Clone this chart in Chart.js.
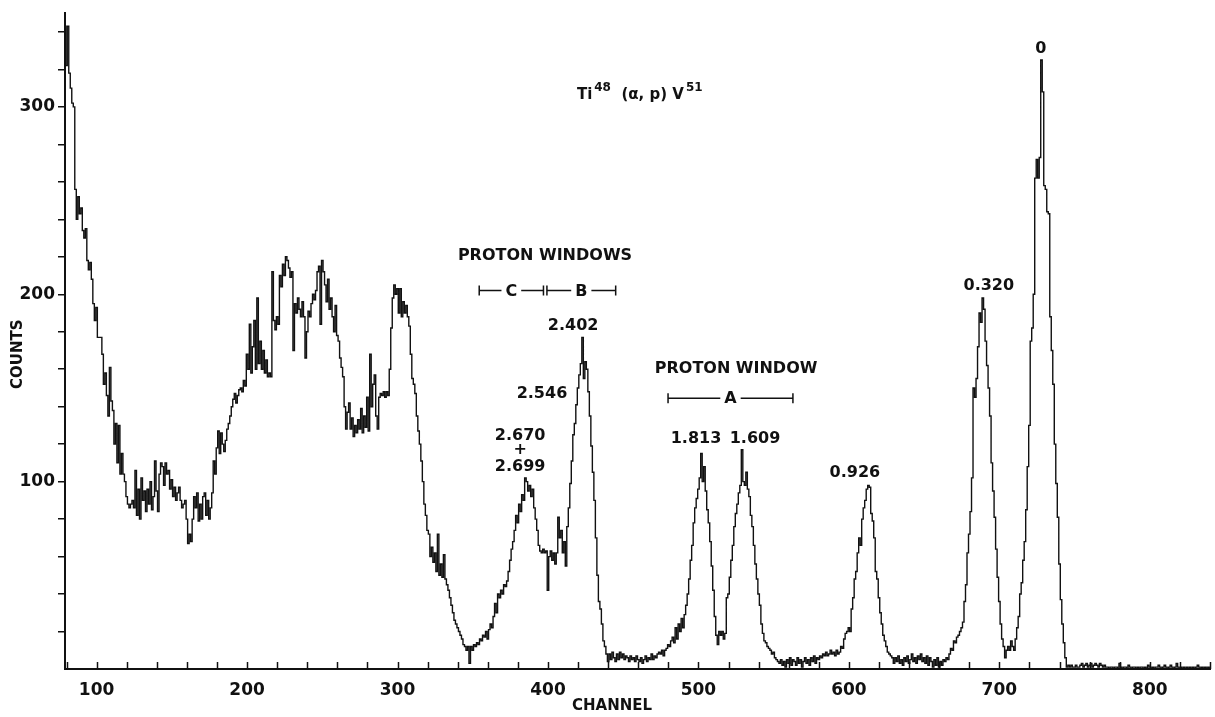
<!DOCTYPE html>
<html><head><meta charset="utf-8">
<script src="https://cdn.jsdelivr.net/npm/chart.js@4/dist/chart.umd.min.js"></script>
<style>html,body{margin:0;padding:0;background:#fff;}canvas{display:block;}</style>
</head><body>
<canvas id="c" width="1215" height="717"></canvas>
<script>
// ---- data (counts per channel, starting at channel 79) ----
const startChannel = 79;
const counts = [
343,
322,343,318,310,302,300,256,240,252,243, // 80
246,234,230,235,218,213,217,208,195,186, // 90
193,177,177,177,168,152,158,146,135,161, // 100
143,138,120,131,110,130,104,115,104,100, // 110
92,88,86,88,90,86,106,82,96,80,          // 120
102,90,95,84,96,88,100,85,92,111,        // 130
95,84,104,110,108,98,110,104,106,96,     // 140
101,92,97,90,94,97,90,86,88,90,          // 150
80,67,72,68,80,92,86,94,79,88,           // 160
80,92,94,82,90,80,86,94,111,104,         // 170
118,127,115,126,120,116,122,128,131,135, // 180
140,144,147,142,146,149,150,148,154,151, // 190
168,160,184,158,172,186,160,198,163,175, // 200
160,170,158,165,156,158,156,212,186,181, // 210
188,184,210,204,216,210,220,218,214,209, // 220
212,170,195,190,198,192,188,196,188,166, // 230
180,191,188,195,200,197,202,212,215,184, // 240
218,212,205,196,208,192,198,188,180,194, // 250
178,175,166,161,156,140,128,137,142,128, // 260
134,124,130,126,133,128,139,126,135,129, // 270
145,127,168,140,152,157,135,128,145,147, // 280
146,148,145,148,146,160,182,198,205,200, // 290
203,190,203,188,196,190,194,188,183,168, // 300
155,152,147,135,127,120,111,100,88,82,   // 310
74,72,60,65,57,62,52,72,50,56,           // 320
49,61,48,45,42,38,34,30,26,24,           // 330
22,20,18,16,13,12,10,12,3,12,            // 340
10,13,12,14,13,16,15,18,17,20,           // 350
16,21,24,22,28,35,30,40,38,42,           // 360
40,45,44,47,52,58,64,68,74,82,           // 370
78,88,84,93,90,102,100,95,98,92,         // 380
96,86,80,74,66,63,62,64,62,63,           // 390
42,60,63,58,62,56,62,81,70,74,           // 400
62,68,55,76,86,99,111,125,131,141,       // 410
150,157,163,177,155,164,160,148,135,119, // 420
105,90,70,50,36,32,24,15,12,8,           // 430
4,8,5,9,6,4,8,5,9,6,                     // 440
8,5,7,6,4,7,5,6,4,7,                     // 450
5,4,6,3,5,7,4,6,5,8,                     // 460
5,7,6,8,9,8,10,7,10,11,                  // 470
13,12,15,17,14,22,16,24,20,27,           // 480
22,29,34,40,48,58,66,78,86,91,           // 490
96,102,115,100,108,95,85,78,68,55,       // 500
42,28,18,13,20,18,20,16,19,38,           // 510
40,49,58,66,76,83,88,94,98,117,          // 520
100,98,105,96,92,82,76,66,56,48,         // 530
40,34,24,19,15,14,12,11,10,8,            // 540
9,6,5,4,3,5,2,4,1,5,                     // 550
3,6,2,5,4,2,6,3,5,1,                     // 560
4,6,3,5,2,6,4,7,3,6,                     // 570
5,7,6,8,7,9,7,8,10,8,                    // 580
9,7,10,8,9,12,11,16,19,20,               // 590
22,20,32,38,48,52,62,70,66,80,           // 600
86,90,96,98,97,83,79,70,52,48,           // 610
38,30,24,18,15,12,9,8,7,6,               // 620
3,6,4,7,3,5,2,6,4,7,                     // 630
3,5,8,4,6,3,7,5,8,4,                     // 640
6,3,7,2,6,4,1,5,2,6,                     // 650
1,4,2,5,4,6,5,8,11,10,                   // 660
15,14,17,18,20,22,25,36,45,62,           // 670
72,84,102,150,145,155,172,190,185,198,   // 680
192,175,162,150,135,110,95,81,64,49,     // 690
36,24,16,12,6,10,12,10,15,12,            // 700
10,16,22,28,40,46,58,68,85,108,          // 710
130,175,182,200,262,272,262,273,325,308, // 720
258,256,244,243,188,170,152,120,99,81,   // 730
56,37,24,14,6,1,2,1,2,1,                 // 740
1,2,1,1,2,3,1,2,3,1,                     // 750
2,3,1,2,3,2,1,3,2,1,                     // 760
2,1,1,0,1,1,0,1,1,0,                     // 770
3,1,0,1,1,0,2,1,0,1,                     // 780
1,0,1,0,1,1,0,1,0,2,                     // 790
1,0,1,0,1,1,2,1,0,1,                     // 800
2,1,0,1,2,1,0,1,3,1,                     // 810
0,1,0,1,0,1,0,1,0,1,                     // 820
0,1,2,1,0,1,0,1,0,1,                     // 830
0                                        // 840
];
const channels = counts.map((_, i) => startChannel + i);

const xTickValues = [80,100,120,140,160,180,200,220,240,260,280,300,320,340,360,380,400,420,440,460,480,500,520,540,560,580,600,620,640,660,680,700,720,740,760,780,800,820,840];
const xTickLabels = ['100','200','300','400','500','600','700','800'];
const yTickValues = [20,40,60,80,100,120,140,160,180,200,220,240,260,280,300,320,340];
const yTickLabels = ['100','200','300'];

const peakLabels   = ['0', '0.320', '0.926', '1.813', '1.609', '2.402', '2.546', '2.670', '+', '2.699'];
const peakChannels = [727.5, 693, 604, 498.4, 537.6, 416.7, 396, 381.5, 381.5, 381.5];
const peakCounts   = [331, 204.7, 104.5, 122.6, 122.6, 183.4, 147, 124.7, 116.7, 107.7];

const windowNames  = ['C', 'B', 'A'];
const windowStarts = [354.3, 399.3, 479.8];
const windowEnds   = [397, 445, 562.8];
const windowLevels = [202, 202, 144.5];
const windowTitles = ['PROTON WINDOWS', 'PROTON WINDOW'];
const windowTitleChannels = [398, 525];
const windowTitleCounts = [220.7, 160.4];

const FONT = '"DejaVu Sans", sans-serif';
const INK = '#111';

const decor = {
  id: 'decor',
  afterDraw(chart) {
    const ctx = chart.ctx, xs = chart.scales.x, ys = chart.scales.y, ca = chart.chartArea;
    const X = v => xs.getPixelForValue(v), Y = v => ys.getPixelForValue(v);
    ctx.save();
    ctx.strokeStyle = INK; ctx.fillStyle = INK; ctx.lineWidth = 1.5;
    // inward x ticks
    xTickValues.forEach(v => {
      const x = Math.round(X(v)) + 0.5;
      ctx.beginPath(); ctx.moveTo(x, ca.bottom); ctx.lineTo(x, ca.bottom - 7); ctx.stroke();
    });
    // peak labels
    ctx.textAlign = 'center'; ctx.textBaseline = 'middle';
    ctx.font = 'bold 16px ' + FONT;
    peakLabels.forEach((t, i) => ctx.fillText(t, X(peakChannels[i]), Y(peakCounts[i])));
    windowTitles.forEach((t, i) => ctx.fillText(t, X(windowTitleChannels[i]), Y(windowTitleCounts[i])));
    // window brackets
    windowNames.forEach((n, i) => {
      const x0 = X(windowStarts[i]), x1 = X(windowEnds[i]), y = Y(windowLevels[i]);
      const xc = (x0 + x1) / 2;
      const hw = ctx.measureText(n).width / 2 + 4;
      ctx.beginPath();
      ctx.moveTo(x0, y); ctx.lineTo(xc - hw, y);
      ctx.moveTo(xc + hw, y); ctx.lineTo(x1, y);
      ctx.moveTo(x0, y - 5); ctx.lineTo(x0, y + 5);
      ctx.moveTo(x1, y - 5); ctx.lineTo(x1, y + 5);
      ctx.stroke();
      ctx.fillText(n, xc, y + 1);
    });
    // reaction title Ti48(α,p)V51
    const base = 'bold 15px ' + FONT, sup = 'bold 12px ' + FONT;
    const parts = [['Ti', 0], ['48', 1], ['  (α, p) ', 0], ['V', 0], ['51', 1]];
    let w = 0;
    parts.forEach(p => { ctx.font = p[1] ? sup : base; w += ctx.measureText(p[0]).width + (p[1] ? 2 : 0); });
    let x = X(461) - w / 2; const yb = Y(304);
    ctx.textAlign = 'left'; ctx.textBaseline = 'alphabetic';
    parts.forEach(p => {
      ctx.font = p[1] ? sup : base;
      if (p[1]) x += 2;
      ctx.fillText(p[0], x, p[1] ? yb - 8 : yb);
      x += ctx.measureText(p[0]).width;
    });
    // axis titles
    ctx.font = 'bold 15px ' + FONT; ctx.textAlign = 'center'; ctx.textBaseline = 'middle';
    ctx.fillText('CHANNEL', X(442.6), ca.bottom + 37);
    ctx.translate(18, Y(168)); ctx.rotate(-Math.PI / 2);
    ctx.fillText('COUNTS', 0, 0);
    ctx.restore();
  }
};

new Chart(document.getElementById('c'), {
  type: 'line',
  data: {
    labels: channels,
    datasets: [{
      data: channels.map((c, i) => ({ x: c, y: counts[i] })),
      borderColor: INK, borderWidth: 1.4, pointRadius: 0, stepped: 'middle', fill: false, tension: 0
    }]
  },
  options: {
    responsive: false, animation: false, devicePixelRatio: 1,
    layout: { padding: { top: 12, right: 5, left: 0, bottom: 0 } },
    plugins: { legend: { display: false }, tooltip: { enabled: false } },
    scales: {
      x: {
        type: 'linear', min: 79, max: 840,
        afterFit: s => { s.height = 48; },
        afterBuildTicks: s => { s.ticks = xTickLabels.map(v => ({ value: +v })); },
        grid: { display: false },
        border: { display: true, color: INK, width: 2 },
        ticks: { color: INK, font: { family: FONT, size: 17, weight: 'bold' }, padding: 3, maxRotation: 0, autoSkip: false,
                 callback: v => xTickLabels.includes(String(v)) ? String(v) : '' }
      },
      y: {
        min: 0, max: 350,
        afterFit: s => { s.width = 65; },
        afterBuildTicks: s => { s.ticks = yTickValues.map(v => ({ value: v })); },
        grid: { display: true, drawOnChartArea: false, drawTicks: true, tickLength: 7, color: INK, lineWidth: 1.5 },
        border: { display: true, color: INK, width: 2 },
        ticks: { color: INK, font: { family: FONT, size: 17, weight: 'bold' }, padding: 3, autoSkip: false,
                 callback: v => yTickLabels.includes(String(v)) ? String(v) : '' }
      }
    }
  },
  plugins: [decor]
});
</script>
</body></html>
